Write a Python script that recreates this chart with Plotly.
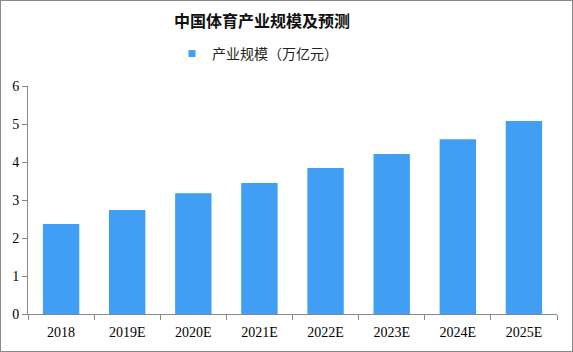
import plotly.graph_objects as go

categories = ["2018", "2019E", "2020E", "2021E", "2022E", "2023E", "2024E", "2025E"]
values = [2.37, 2.74, 3.18, 3.45, 3.84, 4.21, 4.60, 5.08]
series_name = "产业规模（万亿元）"
title = "中国体育产业规模及预测"
bar_color = "#409EF4"

fig = go.Figure()
fig.add_trace(go.Bar(x=categories, y=values, name=series_name, showlegend=False,
                     marker=dict(color=bar_color, line=dict(width=0))))
# legend entry with a small square swatch
fig.add_trace(go.Scatter(x=[categories[0]], y=[None], mode="markers", name=series_name,
                         marker=dict(symbol="square", size=7, color=bar_color),
                         showlegend=True, hoverinfo="skip"))

fig.update_layout(
    width=573, height=352,
    margin=dict(l=28, r=16, t=86, b=38),
    paper_bgcolor="white", plot_bgcolor="white",
    bargap=0.45,
    title=dict(text="<b>" + title + "</b>", x=262 / 573, xanchor="center", y=1 - 21/352, yanchor="middle",
               font=dict(family="Noto Sans CJK SC", size=16, color="#111")),
    showlegend=True,
    legend=dict(orientation="h", x=(172 - 28) / 529, xanchor="left",
                y=1 + (86 - 54) / 228, yanchor="middle",
                font=dict(family="Noto Sans CJK SC", size=14, color="#222"),
                itemwidth=30, bgcolor="rgba(0,0,0,0)"),
    xaxis=dict(type="category", showline=True, linecolor="#888", linewidth=1,
               ticks="outside", tickson="boundaries", ticklen=5, tickcolor="#888",
               ticklabelstandoff=5,
               tickfont=dict(family="Liberation Serif", size=14, color="#000"),
               showgrid=False),
    yaxis=dict(range=[0, 6], dtick=1, showline=True, linecolor="#888", linewidth=1,
               ticks="outside", ticklen=5, tickcolor="#888", showgrid=False, zeroline=False,
               tickfont=dict(family="Liberation Serif", size=14, color="#000")),
)
fig.add_shape(type="rect", xref="paper", yref="paper",
              x0=-28/529, x1=1+16/529, y0=-38/228, y1=1+86/228,
              line=dict(color="#888", width=2))

fig.write_html("out.html")
